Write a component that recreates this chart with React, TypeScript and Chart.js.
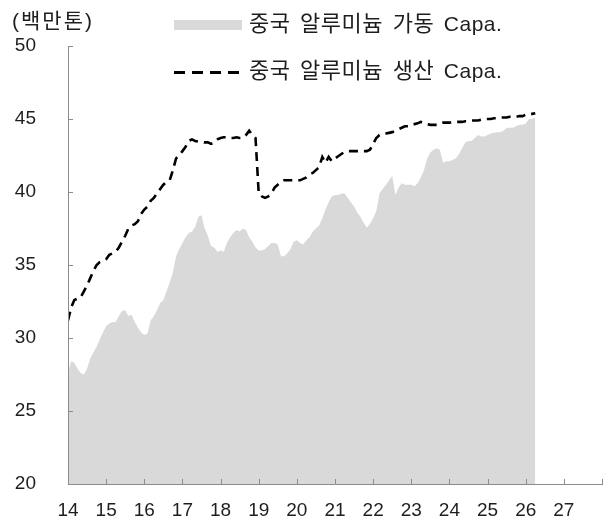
import React, { useEffect, useRef } from "react";
import { Chart, registerables } from "chart.js";

Chart.register(...registerables);

// Monthly data, Jan 2014 .. Apr 2026 (x = 14 + monthIndex / 12)
const START_YEAR = 14;
const yTickValues = [20, 25, 30, 35, 40, 45, 50];
const xTickValues = [14, 15, 16, 17, 18, 19, 20, 21, 22, 23, 24, 25, 26, 27, 28];
const xTickLabels = ["14", "15", "16", "17", "18", "19", "20", "21", "22", "23", "24", "25", "26", "27", ""];
const seriesNames = ["중국 알루미늄 가동 Capa.", "중국 알루미늄 생산 Capa."];
const unitLabel = "(백만톤)";

// 중국 알루미늄 가동 Capa. (gray area)
const operating = [
  27.6, 28.4, 28.3, 27.9, 27.6, 27.5, 27.9, 28.6, 29.0, 29.4, 29.9, 30.4,
  30.8, 31.0, 31.1, 31.1, 31.5, 31.85, 31.9, 31.5, 31.6, 31.1, 30.7, 30.4,
  30.2, 30.3, 31.2, 31.5, 31.9, 32.4, 32.6, 33.2, 33.8, 34.5, 35.6, 36.1,
  36.5, 36.9, 37.2, 37.3, 37.6, 38.3, 38.4, 37.5, 37.0, 36.3, 36.2, 35.9,
  36.0, 35.9, 36.5, 36.9, 37.2, 37.4, 37.3, 37.5, 37.4, 36.9, 36.6, 36.2,
  36.0, 36.0, 36.1, 36.3, 36.5, 36.5, 36.4, 35.6, 35.6, 35.8, 36.1, 36.6,
  36.7, 36.5, 36.4, 36.7, 36.9, 37.3, 37.5, 37.7, 38.2, 38.8, 39.3, 39.7,
  39.8, 39.8, 39.9, 39.9, 39.6, 39.3, 39.0, 38.6, 38.3, 37.9, 37.55, 37.8,
  38.2, 38.7, 39.9, 40.2, 40.5, 40.8, 41.1, 39.8, 40.3, 40.6, 40.5, 40.5,
  40.5, 40.4, 40.6, 41.0, 41.5, 42.3, 42.7, 42.9, 43.0, 42.9, 42.0, 42.1,
  42.1, 42.2, 42.3, 42.6, 43.0, 43.4, 43.5, 43.5, 43.7, 43.9, 43.8, 43.8,
  43.9, 44.0, 44.05, 44.1, 44.1, 44.2, 44.4, 44.4, 44.4, 44.5, 44.6, 44.6,
  44.7, 45.0, 45.0, 45.1,
];

// 중국 알루미늄 생산 Capa. (dashed line)
const capacity = [
  31.2, 32.1, 32.6, 32.7, 32.8, 33.2, 33.6, 34.1, 34.6, 35.0, 35.2, 35.3,
  35.4, 35.7, 35.8, 35.9, 36.2, 36.6, 37.0, 37.5, 37.7, 37.8, 38.0, 38.5,
  38.8, 39.0, 39.4, 39.6, 39.9, 40.2, 40.5, 40.7, 40.8, 41.5, 42.3, 42.5,
  42.8, 43.1, 43.5, 43.6, 43.5, 43.45, 43.45, 43.4, 43.4, 43.3, 43.4, 43.6,
  43.7, 43.75, 43.75, 43.7, 43.7, 43.75, 43.7, 43.7, 43.9, 44.2, 43.9, 43.7,
  39.9, 39.7, 39.6, 39.7, 39.9, 40.3, 40.5, 40.7, 40.8, 40.8, 40.8, 40.8,
  40.8, 40.8, 40.9, 41.0, 41.2, 41.3, 41.5, 41.7, 42.4, 42.0, 42.4, 42.1,
  42.3, 42.45, 42.6, 42.75, 42.8, 42.8, 42.8, 42.8, 42.8, 42.8, 42.8, 42.9,
  43.3, 43.7, 43.9, 43.95, 44.0, 44.05, 44.1, 44.2, 44.3, 44.4, 44.5, 44.5,
  44.6, 44.65, 44.7, 44.8, 44.75, 44.65, 44.6, 44.6, 44.6, 44.7, 44.75, 44.75,
  44.75, 44.8, 44.8, 44.8, 44.8, 44.85, 44.85, 44.9, 44.9, 44.9, 44.95, 45.0,
  45.0, 45.0, 45.05, 45.05, 45.1, 45.1, 45.1, 45.15, 45.15, 45.15, 45.2, 45.2,
  45.3, 45.3, 45.35, 45.4,
];

const AXIS_COLOR = "#8c8c8c";
const TEXT_COLOR = "#1e1e1e";
const NUM_FONT = "'Liberation Sans', Arial, sans-serif";
const KR_FONT = "'Liberation Sans', 'Noto Sans CJK KR', sans-serif";

const innerTicks = {
  id: "innerTicks",
  afterDraw(chart: any) {
    const { ctx, scales } = chart;
    const x = scales.x;
    const y = scales.y;
    ctx.save();
    ctx.strokeStyle = AXIS_COLOR;
    ctx.lineWidth = 1;
    ctx.beginPath();
    yTickValues.forEach((v) => {
      const py = Math.round(y.getPixelForValue(v)) + 0.5;
      ctx.moveTo(x.left, py);
      ctx.lineTo(x.left + 5, py);
    });
    xTickValues.forEach((v) => {
      const px = Math.round(x.getPixelForValue(v)) + 0.5;
      ctx.moveTo(px, y.bottom);
      ctx.lineTo(px, y.bottom - 5);
    });
    ctx.stroke();
    ctx.restore();
  },
};

function LegendLabel({ text, top }: { text: string; top: number }) {
  const words = text.split(" ");
  return (
    <div
      style={{
        position: "absolute",
        left: 249,
        top,
        fontFamily: KR_FONT,
        fontSize: 22,
        letterSpacing: "0.5px",
        wordSpacing: "3px",
        color: TEXT_COLOR,
        lineHeight: "24px",
        whiteSpace: "nowrap",
      }}
    >
      {words.map((w, i) => (
        <span key={i} style={/^[A-Za-z.]+$/.test(w) ? { fontSize: 21 } : undefined}>
          {w}
          {i < words.length - 1 ? " " : ""}
        </span>
      ))}
    </div>
  );
}

export default function App() {
  const canvasRef = useRef<HTMLCanvasElement | null>(null);

  useEffect(() => {
    document.body.style.margin = "0";
    const canvas = canvasRef.current;
    if (!canvas) return;
    const toPoints = (arr: number[]) =>
      arr.map((v, i) => ({ x: START_YEAR + i / 12, y: v }));

    const chart = new Chart(canvas, {
      type: "line",
      data: {
        datasets: [
          {
            label: seriesNames[1],
            data: toPoints(capacity),
            borderColor: "#000000",
            borderWidth: 2.6,
            borderDash: [9, 6],
            pointRadius: 0,
            fill: false,
            tension: 0,
            order: 0,
          },
          {
            label: seriesNames[0],
            data: toPoints(operating),
            borderWidth: 0,
            borderColor: "rgba(0,0,0,0)",
            backgroundColor: "#d9d9d9",
            pointRadius: 0,
            fill: "start",
            tension: 0,
            order: 1,
          },
        ],
      },
      options: {
        responsive: false,
        animation: false,
        layout: { padding: { top: 46, right: 5, left: 0, bottom: 0 } },
        plugins: {
          legend: { display: false },
          tooltip: { enabled: false },
        },
        scales: {
          x: {
            type: "linear",
            min: 14,
            max: 28,
            grid: { display: false },
            border: { display: true, color: AXIS_COLOR, width: 1, z: 1 },
            afterBuildTicks: (scale: any) => {
              scale.ticks = xTickValues.map((v) => ({ value: v }));
            },
            afterFit: (scale: any) => {
              scale.height = 37;
            },
            ticks: {
              autoSkip: false,
              maxRotation: 0,
              padding: 7,
              color: TEXT_COLOR,
              font: { family: NUM_FONT, size: 19 },
              callback: (v: any) => xTickLabels[xTickValues.indexOf(Number(v))] ?? "",
            },
          },
          y: {
            min: 20,
            max: 50,
            grid: { display: false },
            border: { display: true, color: AXIS_COLOR, width: 1, z: 1 },
            afterBuildTicks: (scale: any) => {
              scale.ticks = yTickValues.map((v) => ({ value: v }));
            },
            afterFit: (scale: any) => {
              scale.width = 68;
            },
            ticks: {
              padding: 24,
              color: TEXT_COLOR,
              font: { family: NUM_FONT, size: 19 },
            },
          },
        },
      },
      plugins: [innerTicks],
    });
    return () => chart.destroy();
  }, []);

  return (
    <div style={{ position: "relative", width: 609, height: 521, background: "#fff" }}>
      <canvas ref={canvasRef} width={609} height={521} style={{ display: "block" }} />
      <div
        style={{
          position: "absolute",
          left: 12,
          top: 9,
          fontFamily: KR_FONT,
          fontSize: 21,
          letterSpacing: "2px",
          color: TEXT_COLOR,
          lineHeight: "24px",
          whiteSpace: "nowrap",
        }}
      >
        {unitLabel}
      </div>
      <div style={{ position: "absolute", left: 174, top: 20, width: 68, height: 10, background: "#d9d9d9" }} />
      <LegendLabel text={seriesNames[0]} top={12} />
      <div
        style={{
          position: "absolute",
          left: 174,
          top: 71,
          width: 68,
          height: 3,
          backgroundImage: "repeating-linear-gradient(to right, #000 0 11px, transparent 11px 18px)",
        }}
      />
      <LegendLabel text={seriesNames[1]} top={59} />
    </div>
  );
}
